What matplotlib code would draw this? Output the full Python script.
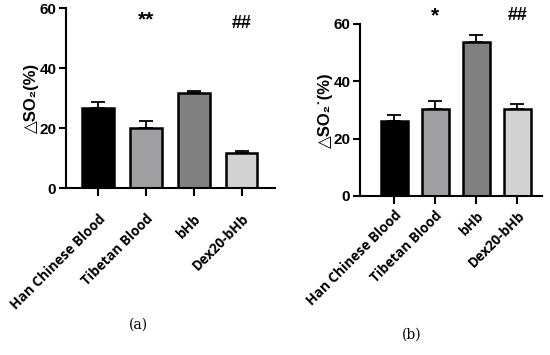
import matplotlib
matplotlib.use("Agg")
import matplotlib.pyplot as plt
import numpy as np

categories = ["Han Chinese Blood", "Tibetan Blood", "bHb", "Dex20-bHb"]
colors = ["#000000", "#a0a0a2", "#808080", "#d3d3d3"]

values_a = [26.8, 20.0, 31.8, 11.8]
errors_a = [2.0, 2.5, 0.6, 0.5]
marks_a = ["", "**", "", "##"]

values_b = [26.3, 30.2, 53.8, 30.2]
errors_b = [1.8, 3.1, 2.2, 2.0]
marks_b = ["", "*", "", "##"]

yticks = [0, 20, 40, 60]

fig = plt.figure(figsize=(5.5, 3.55), dpi=100)

def panel(rect, values, errors, marks, ylabel, xlim, width, mark_y, mark_sizes,
          xpad, labelpad):
    ax = fig.add_axes(rect)
    x = np.arange(len(categories))
    ax.bar(x, values, width=width, color=colors, edgecolor="black", linewidth=1.8, zorder=2)
    ax.errorbar(x, values, yerr=[np.zeros(len(values)), errors], fmt="none",
                ecolor="black", elinewidth=1.3, capsize=5, capthick=1.3, zorder=1)
    for xi, m in zip(x, marks):
        if m:
            ax.text(xi, mark_y[m], m, ha="center", va="center", fontweight="bold",
                    fontsize=mark_sizes[m], family=["Liberation Sans"], clip_on=False)
    ax.set_xlim(*xlim)
    ax.set_ylim(0, 60)
    ax.set_yticks(yticks)
    ax.set_yticklabels([str(t) for t in yticks], fontsize=11, fontweight="bold",
                       family=["Liberation Sans"])
    ax.set_xticks(x)
    ax.set_xticklabels(categories, rotation=45, ha="right", rotation_mode="anchor",
                       fontsize=9.8, fontweight="bold", family=["Open Sans"])
    for s in ["top", "right"]:
        ax.spines[s].set_visible(False)
    for s in ["left", "bottom"]:
        ax.spines[s].set_linewidth(1.5)
    ax.tick_params(axis="x", length=6, width=1.5, pad=xpad)
    ax.tick_params(axis="y", length=5, width=1.5, pad=2)
    ax.set_ylabel(ylabel, fontsize=12, fontweight="bold",
                  family=["Liberation Sans", "DejaVu Sans"], labelpad=labelpad)
    return ax

ax1 = panel([0.12, 0.470, 0.38, 0.507], values_a, errors_a, marks_a,
            "△SO₂(%)", (-0.667, 3.69), 0.65, {"**": 56, "##": 55},
            {"**": 15, "##": 13}, 11, 0)
ax2 = panel([0.6545, 0.448, 0.331, 0.4845], values_b, errors_b, marks_b,
            "△SO₂˙(%)", (-0.84, 3.6), 0.66, {"*": 62.7, "##": 62.8},
            {"*": 15, "##": 13}, 3, 0.5)

fig.text(0.251, 0.085, "(a)", ha="center", va="center", fontsize=10, family=["DejaVu Serif"])
fig.text(0.749, 0.056, "(b)", ha="center", va="center", fontsize=10, family=["DejaVu Serif"])

fig.savefig("out.png", dpi=100)
